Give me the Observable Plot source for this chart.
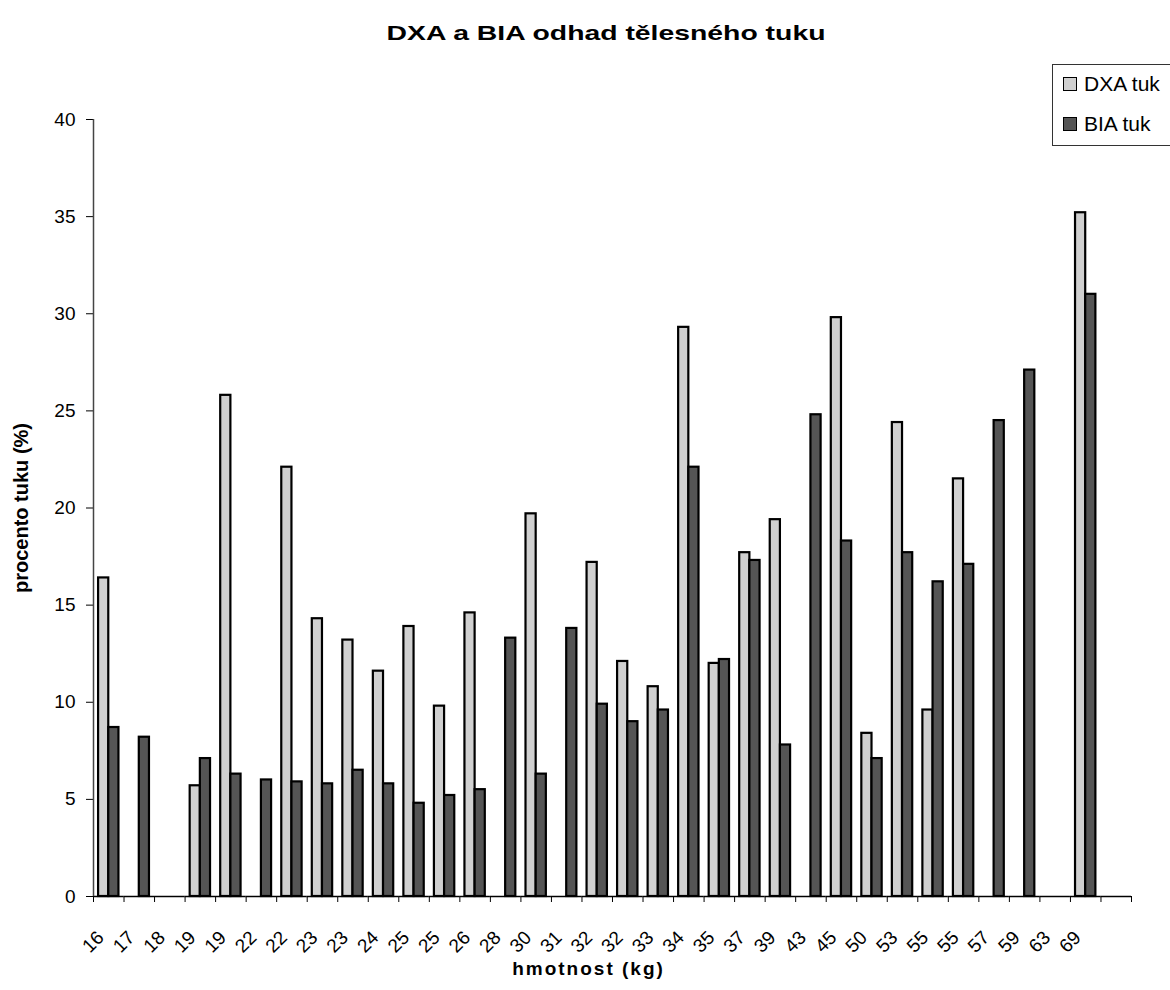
<!DOCTYPE html>
<html>
<head>
<meta charset="utf-8">
<script src="https://cdn.jsdelivr.net/npm/d3@7"></script>
<script src="https://cdn.jsdelivr.net/npm/@observablehq/plot@0.6"></script>
<style>
  html, body { margin: 0; padding: 0; background: #fff; }
  body { width: 1170px; height: 990px; position: relative; overflow: hidden; font-family: "Liberation Sans", Arial, sans-serif; }
  #title { position: absolute; top: 20px; left: 606px; transform: translateX(-50%) scaleX(1.35); white-space: nowrap;
           font-weight: bold; font-size: 21px; line-height: 26px; color: #000; }
  #chart { position: absolute; top: 55px; left: 0; }
  #legend { position: absolute; left: 1052px; top: 64px; width: 130px; height: 82px; border: 1px solid #333; box-sizing: border-box; background: #fff; }
  .lg-row { position: absolute; left: 10px; display: flex; align-items: center; font-size: 21px; color: #000; }
  .lg-sw { width: 12px; height: 12px; border: 1.5px solid #000; margin-right: 7px; }
  g[aria-label="fx-axis label"] text { font-weight: bold; font-size: 19px; letter-spacing: 2px; }
  g[aria-label="y-axis label"] text { font-weight: bold; font-size: 20px; }
</style>
</head>
<body>
<div id="title">DXA a BIA odhad tělesného tuku</div>
<div id="chart"></div>
<div id="legend"></div>
<script>
// category (weight, kg) labels; the last category has no label
const labels = ["16","17","18","19","19","22","22","23","23","24","25","25","26","28","30","31","32","32","33","34","35","37","39","43","45","50","53","55","55","57","59","63","69",""];
const series = ["DXA tuk", "BIA tuk"];
const dxa = [16.4, null, null, 5.7, 25.8, null, 22.1, 14.3, 13.2, 11.6, 13.9, 9.8, 14.6, null, 19.7, null, 17.2, 12.1, 10.8, 29.3, 12.0, 17.7, 19.4, null, 29.8, 8.4, 24.4, 9.6, 21.5, null, null, null, 35.2, null];
const bia = [8.7, 8.2, null, 7.1, 6.3, 6.0, 5.9, 5.8, 6.5, 5.8, 4.8, 5.2, 5.5, 13.3, 6.3, 13.8, 9.9, 9.0, 9.6, 22.1, 12.2, 17.3, 7.8, 24.8, 18.3, 7.1, 17.7, 16.2, 17.1, 24.5, 27.1, null, 31.0, null];
const yTicks = [0, 5, 10, 15, 20, 25, 30, 35, 40];
const colors = ["#d0d0d0", "#555555"];

const idx = d3.range(labels.length);
const rows = [];
idx.forEach(i => {
  if (dxa[i] != null) rows.push({i, s: series[0], v: dxa[i]});
  if (bia[i] != null) rows.push({i, s: series[1], v: bia[i]});
});

const W = 1170, H = 935, mL = 93, mR = 39, mT = 64, mB = 94;
const step = (W - mL - mR) / idx.length;
const bw = step / 3;

const chart = Plot.plot({
  width: W, height: H,
  marginLeft: mL, marginRight: mR, marginTop: mT, marginBottom: mB,
  style: {fontFamily: "'Liberation Sans', Arial, sans-serif", fontSize: "19px", color: "#000", background: "#fff", overflow: "visible"},
  fx: {domain: idx, padding: 0, round: false},
  x: {domain: series, paddingInner: 0, paddingOuter: 0.5, round: false, axis: null},
  y: {domain: [0, 40]},
  color: {domain: series, range: colors},
  marks: [
    Plot.axisY({ticks: yTicks, tickSize: 7, tickPadding: 11, label: "procento tuku (%)", labelAnchor: "center", labelArrow: "none", labelOffset: 80, fontSize: 19}),
    Plot.axisFx({anchor: "bottom", tickFormat: i => labels[i], tickRotate: -45, tickSize: 0, tickPadding: 24, dx: -8, fontSize: 19,
                 label: "hmotnost (kg)", labelAnchor: "center", labelOffset: 78}),
    Plot.barY(rows, {fx: "i", x: "s", y: "v", fill: "s", stroke: "#000", strokeWidth: 2.2}),
    Plot.ruleY([0], {stroke: "#000", strokeWidth: 1.5}),
    Plot.ruleX(idx, {fx: d => d, x: () => series[0], dx: -bw, y1: 0, y2: 0, insetBottom: -6, stroke: "#000"}),
    Plot.ruleX([idx[idx.length - 1]], {fx: d => d, x: () => series[1], dx: bw, y1: 0, y2: 0, insetBottom: -6, stroke: "#000"}),
    Plot.ruleX([0], {fx: d => d, x: () => series[0], dx: -bw, y1: 0, y2: 40, stroke: "#444", strokeWidth: 1.5})
  ]
});
// nudge the x-axis title left and the rotated tick labels down, as in the reference
d3.select(chart).selectAll('g[aria-label="fx-axis label"] text').attr("dx", -24);
d3.select(chart).selectAll("text")
  .filter(function() { return (this.getAttribute("transform") || "").includes("rotate(-45"); })
  .attr("transform", function() { return "translate(0,14) " + this.getAttribute("transform"); });
document.getElementById("chart").appendChild(chart);

const lg = document.getElementById("legend");
series.forEach((s, k) => {
  const row = document.createElement("div");
  row.className = "lg-row";
  row.style.top = (7 + k * 40) + "px";
  const sw = document.createElement("div");
  sw.className = "lg-sw";
  sw.style.background = colors[k];
  const t = document.createElement("span");
  t.textContent = s;
  row.appendChild(sw); row.appendChild(t);
  lg.appendChild(row);
});
</script>
</body>
</html>
